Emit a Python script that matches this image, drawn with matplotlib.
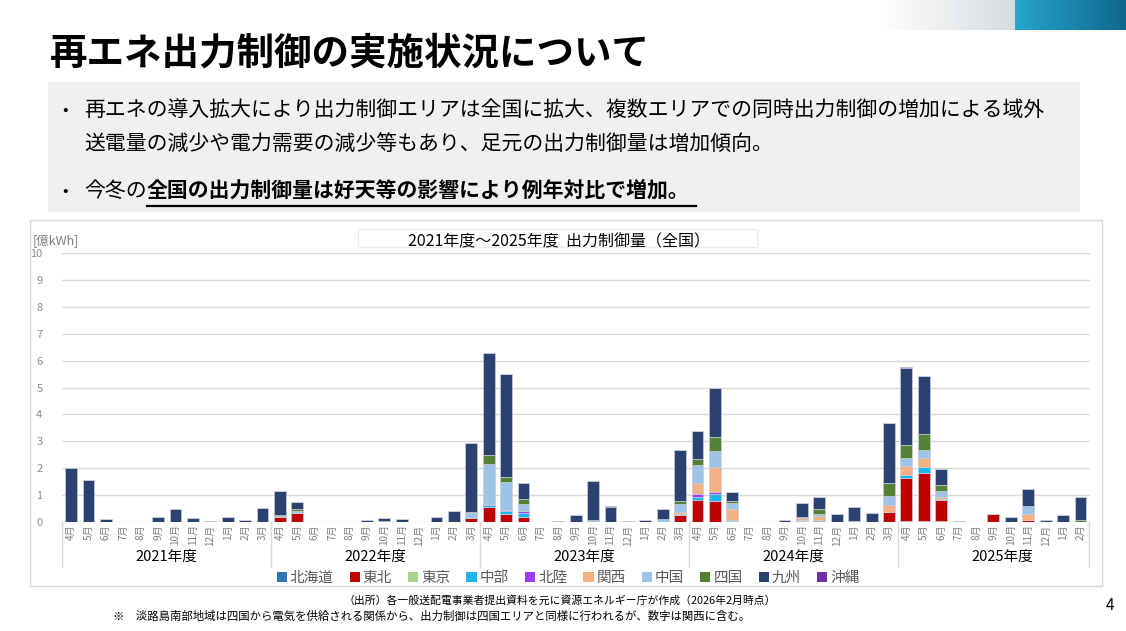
import numpy as np
import matplotlib.pyplot as plt
from matplotlib.patches import Rectangle, Patch
from matplotlib.lines import Line2D

plt.rcParams['font.family'] = ['Noto Sans CJK JP', 'DejaVu Sans']

W, H = 1126, 631

# Categories
fiscal_years = ['2021年度', '2022年度', '2023年度', '2024年度', '2025年度']
month_names = ['4月', '5月', '6月', '7月', '8月', '9月', '10月', '11月', '12月', '1月', '2月', '3月']
months = month_names * 4 + month_names[:11]

regions = ['北海道', '東北', '東京', '中部', '北陸', '関西', '中国', '四国', '九州', '沖縄']
colors = ['#2E75B6', '#C00000', '#A9D18E', '#1CB4EE', '#9B3CFF',
          '#F4B183', '#9DC3E6', '#548235', '#2B4170', '#7030A0']

# Curtailment [億kWh], one row per fiscal year (Apr..Mar)
hokkaido = [
    0, 0, 0, 0, 0, 0, 0, 0, 0, 0, 0, 0,
    0, 0, 0, 0, 0, 0, 0, 0, 0, 0, 0, 0,
    0, 0, 0, 0, 0, 0, 0, 0, 0, 0, 0, 0,
    0, 0, 0.03, 0, 0, 0, 0.03, 0.02, 0, 0, 0, 0,
    0.03, 0.03, 0.03, 0, 0, 0, 0, 0, 0, 0, 0,
]
tohoku = [
    0, 0, 0, 0, 0, 0, 0, 0, 0, 0, 0, 0,
    0.16, 0.32, 0, 0, 0, 0, 0, 0, 0, 0, 0, 0.13,
    0.55, 0.30, 0.17, 0, 0, 0, 0, 0, 0, 0, 0, 0.25,
    0.82, 0.78, 0, 0, 0, 0, 0, 0.06, 0, 0, 0, 0.35,
    1.58, 1.79, 0.78, 0, 0, 0.30, 0, 0.05, 0, 0, 0,
]
tokyo = [
    0, 0, 0, 0, 0, 0, 0, 0, 0, 0, 0, 0,
    0, 0, 0, 0, 0, 0, 0, 0, 0, 0, 0, 0,
    0, 0, 0, 0, 0, 0, 0, 0, 0, 0, 0, 0,
    0, 0, 0, 0, 0, 0, 0.02, 0, 0, 0, 0, 0,
    0, 0, 0, 0, 0, 0, 0, 0, 0, 0, 0,
]
chubu = [
    0, 0, 0, 0, 0, 0, 0, 0, 0, 0, 0, 0,
    0, 0, 0, 0, 0, 0, 0, 0, 0, 0, 0, 0,
    0.06, 0.09, 0.17, 0, 0, 0, 0, 0, 0, 0, 0, 0.03,
    0.11, 0.27, 0.02, 0, 0, 0, 0, 0, 0, 0, 0, 0,
    0.14, 0.22, 0.04, 0, 0, 0, 0, 0, 0, 0, 0,
]
hokuriku = [
    0, 0, 0, 0, 0, 0, 0, 0, 0, 0, 0, 0,
    0, 0, 0, 0, 0, 0, 0, 0, 0, 0, 0, 0,
    0.06, 0.06, 0.05, 0, 0, 0, 0, 0, 0, 0, 0, 0,
    0.09, 0.06, 0, 0, 0, 0, 0, 0, 0, 0, 0, 0,
    0, 0, 0, 0, 0, 0, 0, 0, 0, 0, 0,
]
kansai = [
    0, 0, 0, 0, 0, 0, 0, 0, 0, 0, 0, 0,
    0, 0, 0, 0, 0, 0, 0, 0, 0, 0, 0, 0,
    0, 0, 0, 0, 0, 0, 0, 0, 0, 0, 0, 0.10,
    0.41, 0.91, 0.42, 0, 0, 0, 0.07, 0.14, 0, 0, 0, 0.26,
    0.34, 0.35, 0.07, 0, 0, 0, 0, 0.24, 0, 0, 0,
]
chugoku = [
    0, 0, 0, 0, 0, 0, 0, 0, 0, 0, 0, 0,
    0.05, 0.08, 0, 0, 0, 0, 0.04, 0, 0, 0, 0, 0.20,
    1.48, 1.02, 0.27, 0, 0, 0, 0.05, 0, 0, 0, 0.11, 0.27,
    0.70, 0.62, 0.22, 0, 0, 0, 0.06, 0.07, 0, 0, 0, 0.34,
    0.29, 0.30, 0.24, 0, 0, 0, 0, 0.28, 0, 0, 0,
]
shikoku = [
    0, 0, 0, 0, 0, 0, 0, 0, 0, 0, 0, 0,
    0.04, 0.07, 0, 0, 0, 0, 0, 0, 0, 0, 0, 0.03,
    0.35, 0.19, 0.17, 0, 0, 0, 0, 0, 0, 0, 0, 0.12,
    0.19, 0.51, 0.07, 0, 0, 0, 0, 0.17, 0, 0.03, 0, 0.50,
    0.46, 0.58, 0.19, 0, 0, 0, 0, 0, 0, 0, 0.05,
]
kyushu = [
    2.01, 1.54, 0.10, 0, 0, 0.17, 0.46, 0.14, 0.03, 0.17, 0.06, 0.50,
    0.88, 0.26, 0, 0, 0, 0.05, 0.11, 0.10, 0, 0.17, 0.41, 2.57,
    3.79, 3.83, 0.60, 0, 0.03, 0.24, 1.48, 0.56, 0.03, 0.08, 0.36, 1.89,
    1.06, 1.83, 0.36, 0, 0, 0.05, 0.50, 0.45, 0.28, 0.52, 0.31, 2.21,
    2.90, 2.16, 0.60, 0.04, 0, 0, 0.16, 0.66, 0.08, 0.25, 0.86,
]
okinawa = [
    0, 0, 0, 0, 0, 0, 0, 0, 0, 0, 0, 0,
    0, 0, 0, 0, 0, 0, 0, 0, 0, 0.01, 0, 0,
    0, 0, 0, 0, 0, 0, 0, 0.02, 0.01, 0, 0, 0.01,
    0, 0, 0, 0, 0, 0, 0, 0, 0, 0, 0, 0.01,
    0.02, 0, 0, 0, 0, 0, 0, 0, 0, 0, 0,
]
series = [hokkaido, tohoku, tokyo, chubu, hokuriku, kansai, chugoku, shikoku, kyushu, okinawa]

y_ticks = [0, 1, 2, 3, 4, 5, 6, 7, 8, 9, 10]


def fx(px):
    return px / W


def fy(py):
    return 1 - py / H


fig = plt.figure(figsize=(W / 100, H / 100), dpi=100)

# header decoration (top right)
deco = fig.add_axes([fx(880), fy(30), fx(1126) - fx(880), fy(0) - fy(30)])
grad = np.linspace(0, 1, 256)
gray = np.array([1.0, 1.0, 1.0])[None, :] * (1 - grad[:, None]) + np.array([0.84, 0.86, 0.87])[None, :] * grad[:, None]
teal = np.array([0.15, 0.65, 0.80])[None, :] * (1 - grad[:, None]) + np.array([0.06, 0.40, 0.56])[None, :] * grad[:, None]
deco.imshow(gray[None, :, :], extent=[880, 1015, 0, 30], aspect='auto')
deco.imshow(teal[None, :, :], extent=[1015, 1126, 0, 30], aspect='auto')
deco.set_xlim(880, 1126)
deco.set_ylim(0, 30)
deco.axis('off')

# title
fig.text(fx(50), fy(53), '再エネ出力制御の実施状況について', fontsize=27, fontweight='bold',
         va='center', ha='left', color='black')

# bullet box
fig.patches.append(Rectangle((fx(48), fy(212)), fx(1080) - fx(48), fy(82) - fy(212),
                             transform=fig.transFigure, facecolor='#EEF0F2', edgecolor='none', zorder=-2))
fs = 15
fig.text(fx(62), fy(110), '•', fontsize=12, va='center')
fig.text(fx(84), fy(110), '再エネの導入拡大により出力制御エリアは全国に拡大、複数エリアでの同時出力制御の増加による域外',
         fontsize=fs, va='center')
fig.text(fx(84), fy(144), '送電量の減少や電力需要の減少等もあり、足元の出力制御量は増加傾向。', fontsize=fs, va='center')
fig.text(fx(62), fy(191), '•', fontsize=12, va='center')
t1 = fig.text(fx(84), fy(191), '今冬の', fontsize=fs, va='center')
renderer = fig.canvas.get_renderer()
bb = t1.get_window_extent(renderer)
t2 = fig.text(bb.x1 / W, fy(191), '全国の出力制御量は好天等の影響により例年対比で増加。',
              fontsize=fs, fontweight='bold', va='center')
bb2 = t2.get_window_extent(renderer)
fig.lines.append(Line2D([bb2.x0 / W, bb2.x1 / W + 0.006], [fy(206), fy(206)], transform=fig.transFigure,
                        color='black', linewidth=1.6))

# chart frame
fig.patches.append(Rectangle((fx(30), fy(586)), fx(1102) - fx(30), fy(220) - fy(586),
                             transform=fig.transFigure, facecolor='white', edgecolor='#D9D9D9',
                             linewidth=1, zorder=-2))
fig.patches.append(Rectangle((fx(358), fy(247)), fx(757) - fx(358), fy(229) - fy(247),
                             transform=fig.transFigure, facecolor='none', edgecolor='#EBEBEB',
                             linewidth=0.8, zorder=-1))
fig.text(fx(559), fy(242), '2021年度～2025年度  出力制御量（全国）', fontsize=11.5, ha='center', va='center')
fig.text(fx(33), fy(241), '[億kWh]', fontsize=9, color='#7F7F7F', ha='left', va='center')

# main chart
ax = fig.add_axes([fx(62), fy(521.7), fx(1090) - fx(62), fy(253.3) - fy(521.7)])
ax.set_zorder(2)
ax.set_facecolor('none')
x = np.arange(len(months))
bottom = np.zeros(len(months))
for name, vals, c in zip(regions, series, colors):
    vals = np.array(vals)
    ax.bar(x, vals, 0.68, bottom=bottom, color=c, edgecolor='#C8CEDA', linewidth=0.5,
           label=name, zorder=3)
    bottom += vals

ax.set_ylim(0, 10)
ax.set_xlim(-0.52, 58.55)
ax.set_yticks(y_ticks)
ax.yaxis.grid(True, color='#D9D9D9', linewidth=1)
ax.set_axisbelow(True)
for s in ax.spines.values():
    s.set_visible(False)
ax.tick_params(axis='y', length=0, pad=14, labelsize=8, labelcolor='#8C8C8C')
ax.set_xticks(x)
ax.set_xticklabels(months, rotation=90, fontsize=7.2, color='#7F7F7F')
ax.tick_params(axis='x', length=0, pad=2)

# fiscal year grouping
tr = ax.get_xaxis_transform()
for k in range(6):
    xs = -0.5 + 12 * k if k < 5 else 58.5
    ax.add_line(Line2D([xs, xs], [0, -0.169], transform=tr, color='#D9D9D9',
                       linewidth=1, clip_on=False))
for k, fyear in enumerate(fiscal_years):
    center = 12 * k + 5.5 if k < 4 else 53.5
    ax.text(center, -0.131, fyear, transform=tr, ha='center', va='center', fontsize=10.5)

# legend
handles = [Patch(facecolor=c, edgecolor='none') for c in colors]
leg = fig.legend(handles, regions, loc='center', bbox_to_anchor=(fx(568), fy(578)), ncol=10,
                 frameon=False, fontsize=10.5, handlelength=0.7, handleheight=0.7,
                 handletextpad=0.2, columnspacing=1.1)
for t in leg.get_texts():
    t.set_color('#595959')

# footnotes
fig.text(fx(560), fy(601), '（出所）各一般送配電事業者提出資料を元に資源エネルギー庁が作成（2026年2月時点）',
         fontsize=7.8, ha='center', va='center')
fig.text(fx(113), fy(616), '※　淡路島南部地域は四国から電気を供給される関係から、出力制御は四国エリアと同様に行われるが、数字は関西に含む。',
         fontsize=8.2, ha='left', va='center')
fig.text(fx(1110), fy(606), '4', fontsize=11, ha='center', va='center')

fig.savefig('out.png', dpi=100)
